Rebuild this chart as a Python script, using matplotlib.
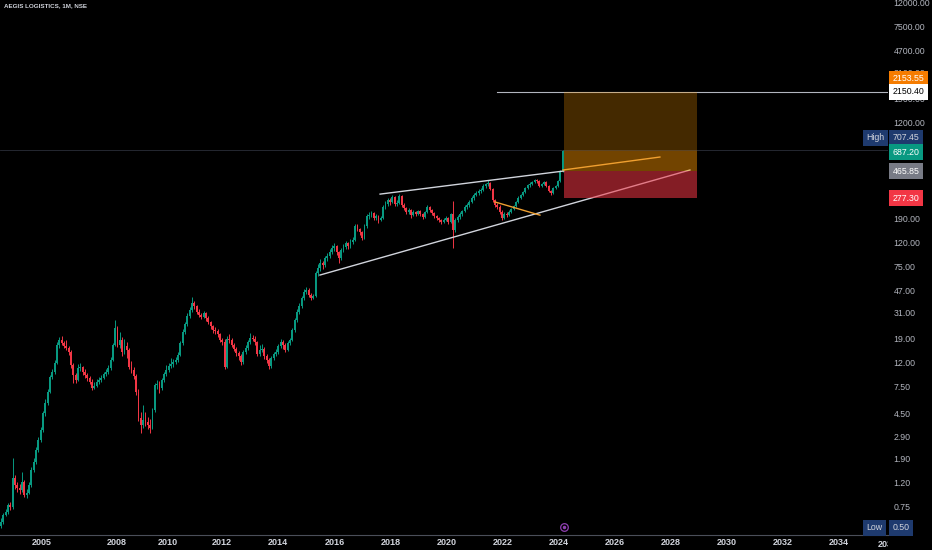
import matplotlib
matplotlib.use("Agg")
import matplotlib.pyplot as plt
from matplotlib.patches import Rectangle
from matplotlib.transforms import Bbox, TransformedBbox, IdentityTransform

plt.rcParams['font.family'] = ['Liberation Sans', 'DejaVu Sans']

# monthly candles, AEGIS LOGISTICS (NSE), bar index 0..241
first_open = 0.52
closes = [
    0.56, 0.64, 0.67, 0.77, 0.74, 1.30, 1.13, 1.07, 1.03, 1.20,
    0.94, 0.97, 1.13, 1.51, 1.76, 2.22, 2.69, 3.26, 4.5, 5.5,
    6.8, 9.0, 9.9, 11.8, 16.6, 18.3, 17.3, 16.3, 15.7, 14.5,
    11.3, 9.35, 8.5, 10.7, 10.9, 9.9, 9.35, 8.8, 8.2, 7.3,
    7.6, 8.2, 8.5, 8.8, 9.5, 9.9, 10.7, 12.5, 16.6, 23.0,
    16.6, 18.3, 14.5, 16.3, 15.1, 10.9, 10.3, 9.2, 6.8, 4.1,
    3.58, 3.94, 3.8, 3.58, 3.4, 4.8, 7.72, 7.9, 7.3, 8.5,
    9.5, 10.3, 11.1, 11.6, 12.0, 12.5, 13.7, 17.3, 21.3, 24.8,
    29.0, 32.6, 37.2, 35.1, 31.4, 29.6, 28.5, 30.8, 28.0, 25.9,
    24.0, 22.2, 21.8, 20.5, 18.3, 17.6, 11.0, 18.5, 18.3, 16.6,
    15.4, 14.3, 13.4, 12.0, 14.5, 15.7, 17.6, 19.0, 18.7, 17.6,
    14.0, 15.1, 15.4, 13.4, 12.5, 11.1, 13.0, 14.0, 14.5, 16.3,
    17.6, 16.6, 15.1, 17.3, 18.3, 22.2, 26.9, 31.4, 35.1, 41.0,
    46.0, 48.0, 43.4, 41.0, 42.6, 66.2, 72.6, 80, 77.2, 88,
    91.7, 99, 107, 111, 99, 88, 103, 109, 117, 111,
    120, 125, 163, 154, 145, 130, 163, 197, 201, 209,
    190, 197, 183, 190, 236, 249, 269, 259, 285, 249,
    254, 291, 244, 231, 214, 222, 201, 214, 205, 218,
    205, 194, 214, 236, 222, 209, 197, 190, 183, 176,
    183, 190, 176, 205, 150, 183, 194, 205, 218, 236,
    244, 259, 280, 296, 307, 320, 326, 351, 365, 372,
    332, 269, 244, 236, 214, 190, 205, 201, 214, 226,
    240, 259, 280, 296, 313, 339, 358, 365, 380, 394,
    387, 351, 365, 380, 351, 320, 307, 339, 351, 387,
    465.85, 687.20,
]
highs = [
    0.60, 0.66, 0.72, 0.80, 0.82, 1.90, 1.38, 1.20, 1.15, 1.45,
    1.25, 1.05, 1.20, 1.60, 1.90, 2.35, 2.85, 3.45, 4.7, 5.9,
    7.2, 9.4, 10.6, 12.5, 17.5, 19.5, 19.8, 18.0, 18.2, 16.4,
    15.0, 11.8, 9.8, 11.5, 11.8, 11.2, 10.6, 9.8, 9.2, 8.6,
    8.2, 8.7, 9.0, 9.3, 9.9, 10.5, 11.3, 13.2, 17.3, 26.9,
    24.0, 21.5, 19.5, 18.8, 17.5, 15.6, 12.2, 11.0, 9.6, 7.1,
    4.6, 5.3, 4.6, 4.2, 4.0, 5.0, 8.0, 8.5, 8.3, 8.9,
    10.0, 11.4, 11.8, 13.0, 12.8, 13.2, 14.5, 18.0, 22.5, 26.0,
    30.5, 34.5, 41.7, 38.5, 36.0, 33.0, 31.0, 32.0, 31.5, 28.8,
    26.5, 24.6, 23.5, 22.6, 21.0, 19.0, 18.5, 19.8, 20.5, 19.0,
    17.2, 16.0, 14.8, 14.0, 15.0, 16.5, 18.3, 20.8, 20.2, 19.6,
    18.0, 16.5, 17.0, 15.9, 14.0, 13.0, 13.5, 14.6, 15.5, 17.0,
    18.5, 18.2, 17.2, 18.0, 19.2, 23.0, 28.0, 33.0, 37.0, 43.0,
    48.5, 51.0, 49.5, 45.0, 44.5, 69.0, 78.0, 86, 84, 92,
    98, 105, 113, 118, 114, 101, 107, 115, 122, 121,
    126, 132, 170, 168, 158, 148, 168, 205, 212, 218,
    214, 206, 200, 198, 244, 262, 282, 278, 296, 290,
    268, 300, 296, 252, 236, 232, 226, 220, 218, 224,
    222, 210, 218, 242, 240, 226, 212, 202, 194, 188,
    190, 196, 193, 210, 262, 190, 200, 212, 224, 242,
    255, 268, 288, 305, 318, 332, 340, 362, 375, 392,
    378, 338, 276, 252, 242, 220, 212, 214, 220, 232,
    246, 266, 288, 304, 322, 346, 368, 378, 390, 402,
    404, 392, 372, 388, 384, 356, 328, 346, 360, 394,
    478, 707.45,
]
lows = [
    0.50, 0.54, 0.62, 0.65, 0.70, 0.72, 1.05, 1.00, 0.96, 1.00,
    0.90, 0.88, 0.95, 1.10, 1.45, 1.70, 2.15, 2.60, 3.15, 4.3,
    5.3, 6.6, 8.6, 9.6, 11.5, 15.8, 16.5, 15.6, 15.0, 13.8,
    10.8, 8.0, 8.1, 8.3, 10.2, 9.4, 8.9, 8.4, 7.8, 7.0,
    7.1, 7.4, 7.9, 8.2, 8.6, 9.2, 9.6, 10.4, 12.2, 16.2,
    16.0, 15.8, 13.5, 14.0, 13.0, 10.5, 9.8, 8.6, 6.4, 3.9,
    3.1, 3.4, 3.5, 3.3, 3.1, 3.3, 4.6, 7.2, 6.6, 7.0,
    8.2, 9.2, 10.0, 10.7, 11.0, 11.6, 12.1, 13.4, 16.8, 20.5,
    24.0, 28.0, 31.5, 33.0, 30.0, 28.5, 27.5, 27.8, 26.5, 24.8,
    22.8, 21.0, 20.6, 19.4, 17.5, 16.5, 10.6, 10.8, 17.2, 16.0,
    14.8, 13.6, 12.6, 11.3, 11.6, 14.0, 15.2, 17.0, 17.8, 16.8,
    13.5, 13.6, 14.5, 12.8, 11.8, 10.6, 10.8, 12.5, 13.5, 14.0,
    15.8, 15.5, 14.6, 14.8, 16.6, 17.8, 21.5, 26.0, 30.0, 34.0,
    39.5, 44.0, 41.5, 39.5, 40.0, 41.5, 62.0, 69, 72, 74,
    84, 88, 95, 102, 94, 80, 85, 100, 105, 106,
    108, 116, 122, 147, 138, 125, 127, 158, 188, 193,
    182, 183, 174, 178, 186, 228, 240, 245, 252, 240,
    238, 248, 236, 220, 205, 207, 192, 196, 196, 200,
    198, 186, 190, 210, 214, 200, 190, 182, 175, 168,
    172, 178, 170, 172, 108, 145, 176, 188, 198, 212,
    228, 236, 252, 270, 288, 298, 310, 318, 340, 352,
    325, 260, 236, 225, 205, 184, 186, 194, 196, 208,
    220, 234, 252, 272, 288, 306, 330, 348, 356, 370,
    376, 342, 344, 356, 344, 312, 296, 302, 330, 344,
    380, 458,
]
opens = [first_open] + closes[:-1]

year_labels = ["2005", "2008", "2010", "2012", "2014", "2016", "2018", "2020",
               "2022", "2024", "2026", "2028", "2030", "2032", "2034"]
year_idx = [17.6, 49.8, 71.7, 94.8, 118.9, 143.3, 167.4, 191.4,
            215.5, 239.5, 263.5, 287.5, 311.5, 335.5, 359.5]

price_ticks = [12000, 7500, 4700, 3100, 1900, 1200, 310, 190, 120, 75,
               47, 31, 19, 12, 7.5, 4.5, 2.9, 1.9, 1.2, 0.75]

# long position tool
entry = 465.85
stop = 277.30
target = 2153.55
last_close = 687.20
high_price = 707.45
low_price = 0.50
pos_start, pos_end = 241.6, 298.7
hline_price = 2150.40

UP = '#089981'
DOWN = '#f23645'
TXT = '#b2b5be'
FS = 6.3

fig = plt.figure(figsize=(9.32, 5.5), dpi=100, facecolor='black')
ax = fig.add_axes([0, 15 / 550, 888 / 932, 535 / 550])
ax.set_facecolor('black')
ax.set_yscale('log')
ax.set_xlim(-0.43, 380.7)
ax.set_ylim(0.4345, 12474)

idx = list(range(len(closes)))
cols = [UP if c >= o else DOWN for o, c in zip(opens, closes)]
ax.vlines(idx, lows, highs, colors=cols, linewidth=0.7, zorder=3)
bottoms = [min(o, c) for o, c in zip(opens, closes)]
heights = [max(abs(c - o), min(o, c) * 0.01) for o, c in zip(opens, closes)]
ax.bar(idx, heights, bottom=bottoms, width=0.8, color=cols, linewidth=0, zorder=4)

# faint line at the high and the horizontal ray
ax.axhline(high_price, color='#2a2e39', linewidth=0.6, zorder=1)
ax.plot([212.9, 380.7], [hline_price, hline_price], color='#b2b5be', linewidth=0.8, zorder=5)

# position boxes
ax.add_patch(Rectangle((pos_start, entry), pos_end - pos_start, target - entry,
                       facecolor='#ff9800', alpha=0.27, linewidth=0, zorder=6))
ax.add_patch(Rectangle((pos_start, entry), pos_end - pos_start, last_close - entry,
                       facecolor='#ff9800', alpha=0.25, linewidth=0, zorder=6))
ax.add_patch(Rectangle((pos_start, stop), pos_end - pos_start, entry - stop,
                       facecolor=DOWN, alpha=0.55, linewidth=0, zorder=6))

# trend lines
ax.plot([162.7, 241.6], [301, 469], color='#d1d4dc', linewidth=1.0, zorder=5)
ax.plot([136.9, 295.7], [63.7, 478], color='#d1d4dc', linewidth=1.0, zorder=5)
ax.plot([241.2, 282.8], [478, 613], color='#f0a030', linewidth=1.0, zorder=7)
ax.plot([212, 231.3], [259, 201], color='#f0a030', linewidth=1.0, zorder=5)

# event marker
ax.plot([241.7], [0.506], marker='o', markersize=5.5, markerfacecolor='none',
        markeredgecolor='#8e3fb0', markeredgewidth=0.9, zorder=8)
ax.plot([241.7], [0.506], marker='o', markersize=1.5, color='#8e3fb0', zorder=8)

# axes look
for s in ['top', 'left', 'right']:
    ax.spines[s].set_visible(False)
ax.spines['bottom'].set_color('#4a4e59')
ax.spines['bottom'].set_linewidth(0.8)
ax.set_xticks(year_idx)
ax.set_xticklabels(year_labels)
ax.tick_params(axis='x', length=0, pad=2.5, labelsize=6.5, labelcolor='#d1d4dc')
for t in ax.get_xticklabels():
    t.set_fontweight('bold')
t36 = ax.text(380.5, -0.01, "2036", transform=ax.get_xaxis_transform(), ha='center',
              va='top', fontsize=6.5, color='#d1d4dc', fontweight='bold', clip_on=True)
t36.set_clip_box(TransformedBbox(Bbox([[0, 0], [888, 550]]), IdentityTransform()))

ax.yaxis.tick_right()
ax.set_yticks(price_ticks)
ax.set_yticklabels([f"{p:.2f}" for p in price_ticks])
ax.yaxis.set_minor_locator(plt.NullLocator())
ax.tick_params(axis='y', length=0, pad=4, labelsize=FS, labelcolor=TXT)

ytr = ax.get_yaxis_transform()


def price_tag(price, text, fc, tc, dy=0, x=1.005):
    ax.annotate(text, xy=(x, price), xycoords=ytr, xytext=(0, dy), textcoords='offset pixels',
                ha='left', va='center', fontsize=FS, color=tc, annotation_clip=False, zorder=10,
                bbox=dict(boxstyle='square,pad=0.4', fc=fc, ec='none'))


price_tag(target, f"{target:.2f}", '#f57c00', 'white', dy=13)
price_tag(hline_price, f"{hline_price:.2f}", 'white', 'black')
price_tag(high_price, f"{high_price:.2f}", '#1e3a6e', '#d1d4dc', dy=12)
price_tag(high_price, "High", '#1e3a6e', '#d1d4dc', dy=12, x=0.976)
price_tag(last_close, f"{last_close:.2f}", UP, 'white', dy=-1)
price_tag(entry, f"{entry:.2f}", '#787b86', 'white')
price_tag(stop, f"{stop:.2f}", DOWN, 'white')
price_tag(low_price, f"{low_price:.2f}", '#1e3a6e', '#d1d4dc')
price_tag(low_price, "Low", '#1e3a6e', '#d1d4dc', x=0.976)

fig.text(4 / 932, 1 - 6 / 550, "AEGIS LOGISTICS, 1M, NSE", ha='left', va='center',
         fontsize=4.5, color='#d1d4dc', fontweight='bold')

fig.savefig('out.png', dpi=100, facecolor='black')
